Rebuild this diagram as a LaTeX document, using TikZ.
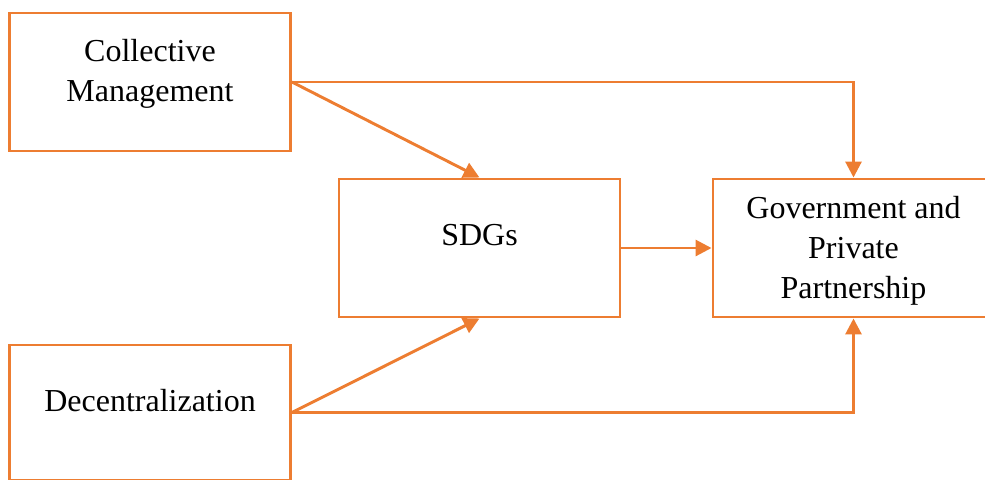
\documentclass[tikz,border=0pt]{standalone}
\usepackage{fontspec}
\setmainfont{Liberation Serif}
\usetikzlibrary{arrows.meta}
\definecolor{org}{HTML}{ED7D31}
\begin{document}
\begin{tikzpicture}[x=0.75pt,y=-0.75pt,
  box/.style={draw=org, line width=2.2pt, minimum width=210.75pt, minimum height=103.5pt, inner sep=0pt},
  tall/.style={minimum height=101.25pt},
  lbl/.style={font=\fontsize{24}{30}\selectfont, align=center, inner sep=0pt, text=black},
  conn/.style={draw=org, line width=2.2pt, -{Triangle[length=12pt,width=12pt]}}]
\useasboundingbox (0,0) rectangle (985,479);
\clip (0,0) rectangle (985,479);
\node[box] (cm) at (150,82) {};
\node[box] (sdg) at (479.5,248) {};
\node[box] (gov) at (853.5,248) {};
\node[box,tall] (dec) at (150,412.5) {};
\node[lbl] (cmt) at (150,74.3) {Collective\\Management};
\node[lbl,anchor=base] (sdgt) at (479.5,245) {SDGs};
\node[lbl] (govt) at (853.5,250.5) {Government and\\Private\\Partnership};
\node[lbl,anchor=base] (dect) at (150,411.7) {Decentralization};
\draw[conn] (cm.east) -- (sdg.north);
\draw[conn] (cm.east) -| (gov.north);
\draw[conn] (sdg.east) -- (gov.west);
\draw[conn] (dec.east) -- (sdg.south);
\draw[conn] (dec.east) -| (gov.south);
\end{tikzpicture}
\end{document}
